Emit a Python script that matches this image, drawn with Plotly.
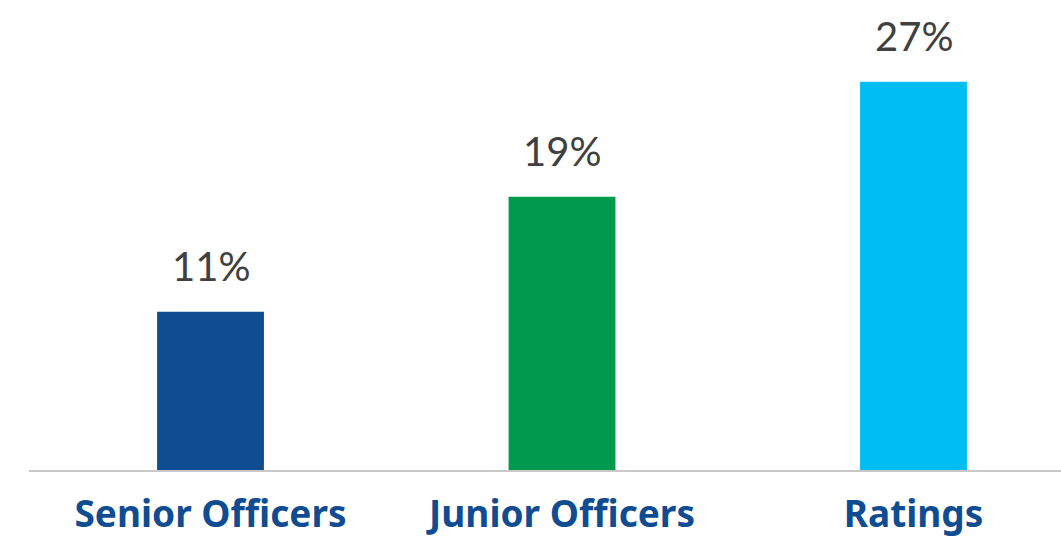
import plotly.graph_objects as go

categories = ["Senior Officers", "Junior Officers", "Ratings"]
values = [11, 19, 27]
labels = ["11%", "19%", "27%"]
colors = ["#0F4C91", "#009A4E", "#00BEF2"]

x_pos = list(range(len(categories)))

fig = go.Figure(
    go.Bar(
        x=x_pos,
        y=values,
        width=0.304,
        marker=dict(color=colors, line=dict(width=0)),
        hoverinfo="skip",
    )
)

# value labels above each bar
for xp, v, lab in zip(x_pos, values, labels):
    fig.add_annotation(
        x=xp, y=v, text=lab, showarrow=False,
        yanchor="bottom", yshift=20,
        font=dict(family="Lato", size=40, color="#404040"),
    )

fig.update_layout(
    width=1061,
    height=538,
    margin=dict(l=29, r=0, t=4, b=58),
    paper_bgcolor="white",
    plot_bgcolor="white",
    showlegend=False,
    xaxis=dict(
        range=[-0.5164, 2.4196],
        tickmode="array",
        tickvals=x_pos,
        ticktext=categories,
        tickfont=dict(family="Noto Sans", size=37, color="#0F4C91", weight="bold"),
        ticks="",
        ticklabelstandoff=11,
        showline=True,
        linecolor="#C8C8C8",
        linewidth=2,
        showgrid=False,
        zeroline=False,
        fixedrange=True,
    ),
    yaxis=dict(
        range=[0, 32.4],
        visible=False,
        showgrid=False,
        zeroline=False,
        fixedrange=True,
    ),
)

fig.write_html("out.html")
